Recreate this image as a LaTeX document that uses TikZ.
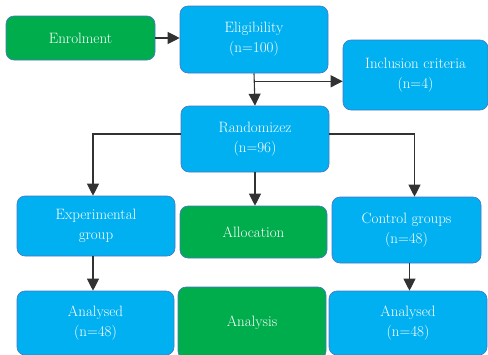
\documentclass[tikz,border=0pt]{standalone}
\usepackage{tikz}
\usetikzlibrary{positioning,arrows.meta,calc}
\definecolor{boxBlue}{RGB}{0,176,240}
\definecolor{boxGreen}{RGB}{0,173,76}
\definecolor{boxLine}{RGB}{72,118,200}
\definecolor{flowLine}{RGB}{50,50,50}
\tikzset{
  grp/.style={rectangle, rounded corners=8pt, draw=boxLine, line width=0.6pt, fill=boxBlue,
              align=center, text=white, font=\fontsize{15}{20}\selectfont, inner sep=0pt},
  phase/.style={grp, fill=boxGreen},
  flow/.style={-{Triangle[length=12pt,width=12pt]}, draw=flowLine, line width=1.1pt},
}

\begin{document}
\begin{tikzpicture}[x=1pt,y=1pt]
  \useasboundingbox (0,0) rectangle (488,-354);
  \node[phase, minimum width=149pt, minimum height=44pt] (enrol) at (80.5,-38) {Enrolment};
  \node[grp, minimum width=148pt, minimum height=67pt] (elig) at (254,-39.5) {Eligibility\\(n=100)};
  \node[grp, minimum width=145pt, minimum height=70pt] (incl) at (415.5,-75) {Inclusion criteria\\(n=4)};
  \node[grp, minimum width=148pt, minimum height=66pt] (rand) at (255,-139) {Randomizez\\(n=96)};
  \node[grp, minimum width=158pt, minimum height=60pt] (expgrp) at (96,-226) {Experimental\\group};
  \node[phase, minimum width=147pt, minimum height=52pt] (alloc) at (253.5,-232) {Allocation};
  \node[grp, minimum width=149pt, minimum height=66pt] (ctrl) at (406.5,-230) {Control groups\\(n=48)};
  \node[grp, minimum width=157pt, minimum height=64pt] (anaL) at (95.5,-323) {Analysed\\(n=48)};
  \node[phase, minimum width=148pt, minimum height=72pt] (analysis) at (252,-323) {Analysis};
  \node[grp, minimum width=158pt, minimum height=64pt] (anaR) at (408,-323) {Analysed\\(n=48)};

  \coordinate (split) at ($(elig.south)+(0,-8)$);
  \draw[flow] (enrol.east) -- (enrol.east -| elig.west);
  \draw[flow] (elig.south) -- (rand.north);
  \draw[flow] (split) -- (split -| incl.west);
  \draw[flow] ([yshift=5pt]rand.west) -| ([xshift=-3pt]expgrp.north);
  \draw[flow] ([yshift=5pt]rand.east) -| ([xshift=8pt]ctrl.north);
  \draw[flow] (rand.south) -- (rand.south |- alloc.north);
  \draw[flow] ([xshift=-3pt]expgrp.south) -- ([xshift=-3pt]expgrp.south |- anaL.north);
  \draw[flow] ([xshift=3pt]ctrl.south) -- ([xshift=3pt]ctrl.south |- anaR.north);
\end{tikzpicture}
\end{document}
